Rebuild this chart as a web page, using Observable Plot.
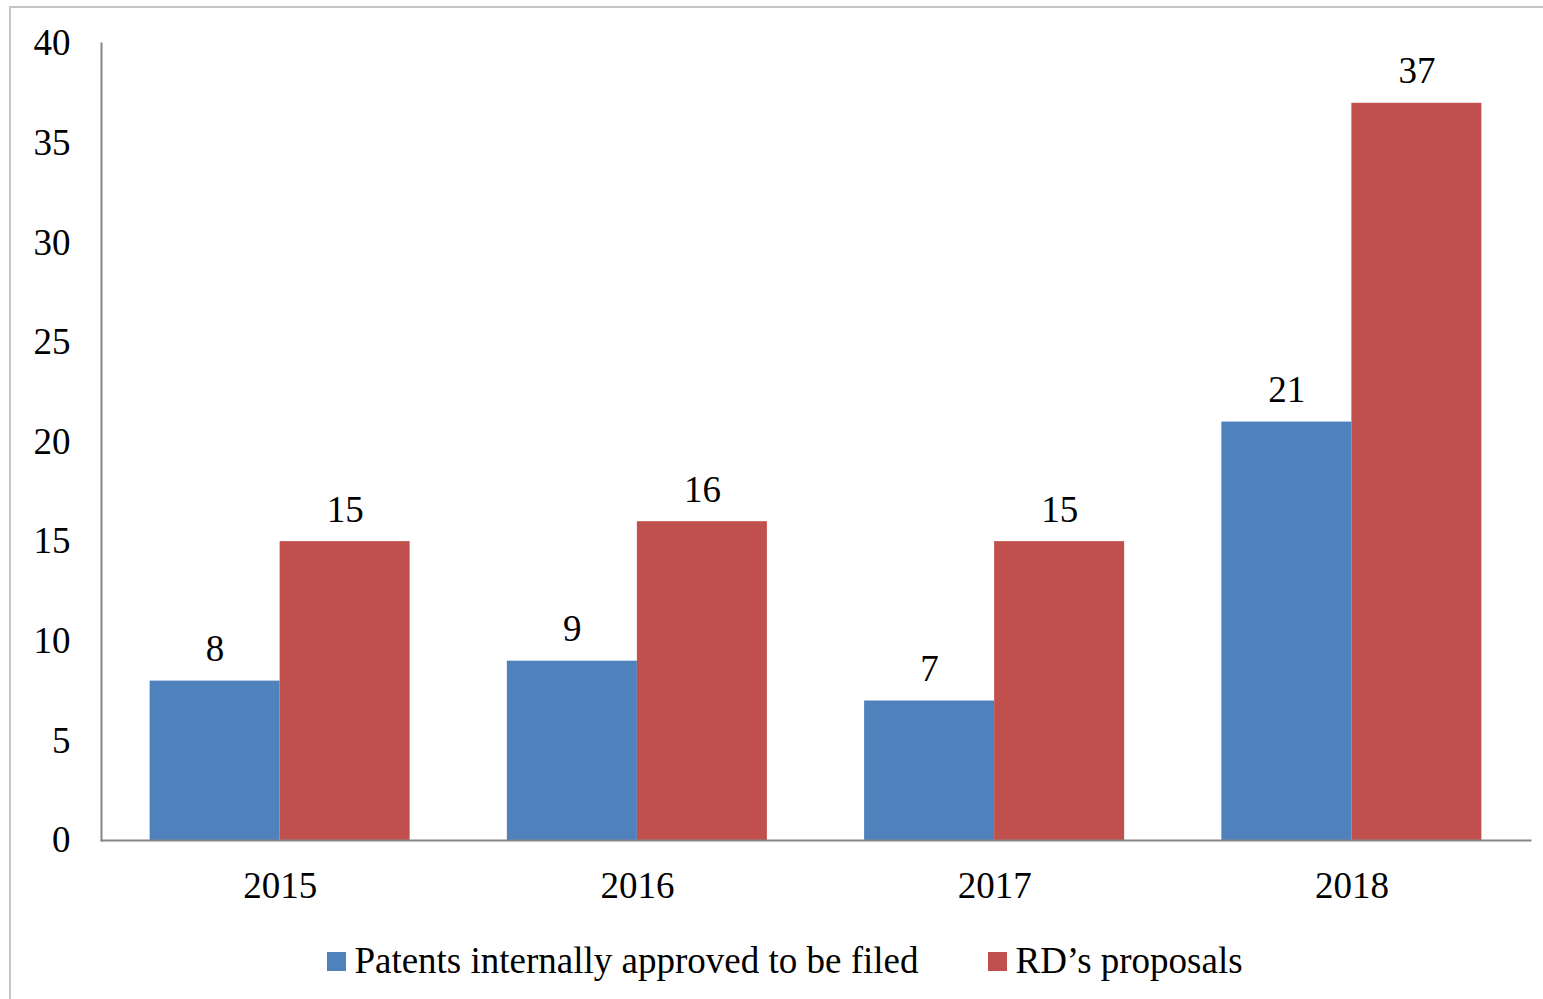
<!DOCTYPE html>
<html>
<head>
<meta charset="utf-8">
<script src="https://cdn.jsdelivr.net/npm/d3@7"></script>
<script src="https://cdn.jsdelivr.net/npm/@observablehq/plot@0.6"></script>
<style>
  html, body { margin: 0; padding: 0; background: #fff; overflow: hidden; width: 1543px; height: 999px; }
  #frame { position: absolute; left: 9px; top: 6px; width: 1600px; height: 1100px; border-left: 2px solid #c6c6c6; border-top: 2px solid #c6c6c6; }
  #chart { position: absolute; left: 0; top: 0; }
  #legend { position: absolute; left: 0; top: 915px; width: 1543px; height: 90px; display: flex; justify-content: center; align-items: flex-start; padding-top: 26px; padding-left: 27px; box-sizing: border-box;
    font-family: "Liberation Serif", "Times New Roman", serif; font-size: 37px; color: #000; }
  .item { display: flex; align-items: center; margin: 0 35px; line-height: 40px; }
  .sw { width: 19px; height: 19px; margin-right: 8px; }
</style>
</head>
<body>
<div id="frame"></div>
<div id="chart"></div>
<div id="legend"></div>
<script>
const years = ["2015", "2016", "2017", "2018"];
const series = ["Patents internally approved to be filed", "RD\u2019s proposals"];
const patents = [8, 9, 7, 21];
const proposals = [15, 16, 15, 37];
const colors = ["#4F81BD", "#C0504D"];
const yTicks = [0, 5, 10, 15, 20, 25, 30, 35, 40];

const data = years.flatMap((y, i) => [
  {year: y, series: series[0], value: patents[i]},
  {year: y, series: series[1], value: proposals[i]}
]);

const axisColor = "#868686";

const chart = Plot.plot({
  width: 1543,
  height: 915,
  marginLeft: 101,
  marginRight: 13,
  marginTop: 43,
  marginBottom: 75,
  style: {fontFamily: "'Liberation Serif', 'Times New Roman', serif", fontSize: "37px", color: "#000", background: "transparent", overflow: "visible"},
  fx: {domain: years, padding: 0, round: false, label: null, axis: null},
  x: {domain: series, paddingInner: 0, paddingOuter: 0.374, round: false, axis: null},
  y: {domain: [0, 40], axis: null},
  color: {domain: series, range: colors},
  marks: [
    Plot.barY(data, {fx: "year", x: "series", y: "value", fill: "series"}),
    Plot.text(data, {fx: "year", x: "series", y: "value", text: "value", lineAnchor: "bottom", dy: -20, fontSize: 37, fill: "#000"}),
    Plot.axisY({ticks: yTicks, tickSize: 0, tickPadding: 31, label: null, fontSize: 37, fill: "#000"}),
    Plot.axisFx({anchor: "bottom", tickSize: 0, tickPadding: 31, label: null, fontSize: 37, fill: "#000"}),
    Plot.frame({anchor: "left", facet: "super", stroke: axisColor, strokeWidth: 2}),
    Plot.frame({anchor: "bottom", facet: "super", stroke: axisColor, strokeWidth: 2})
  ]
});
document.getElementById("chart").appendChild(chart);

const legend = document.getElementById("legend");
series.forEach((s, i) => {
  const item = document.createElement("div");
  item.className = "item";
  const sw = document.createElement("div");
  sw.className = "sw";
  sw.style.background = colors[i];
  const label = document.createElement("span");
  label.textContent = s;
  item.appendChild(sw);
  item.appendChild(label);
  legend.appendChild(item);
});
</script>
</body>
</html>
